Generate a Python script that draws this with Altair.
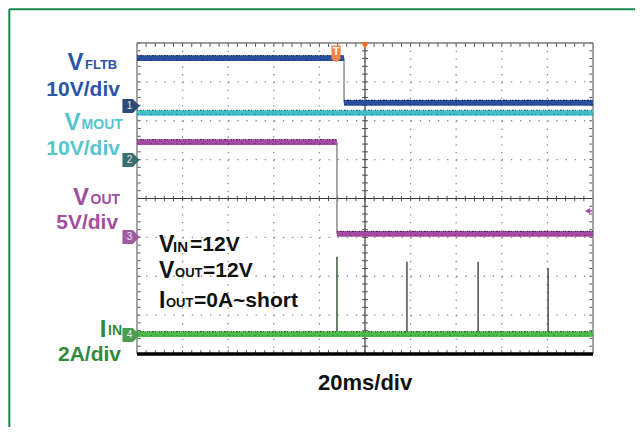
import altair as alt
import pandas as pd

# ---------------- data (time in ms, 20 ms/div ; vertical in screen divisions) ----------------
T_MIN, T_MAX = -100, 100
Y_MIN, Y_MAX = -4, 4

# horizontal trace segments
seg_name = ["VFLTB", "VFLTB", "VMOUT", "VOUT", "VOUT", "IIN"]
seg_t0 = [-100, -9.2, -100, -100, -12.3, -100]
seg_t1 = [-9.2, 100, 100, -12.3, 100, 100]
seg_level = [3.61, 2.46, 2.20, 1.45, -0.91, -3.49]

# falling edges (thin vertical transitions)
edge_t = [-9.2, -12.3]
edge_top = [3.61, 1.45]
edge_bot = [2.46, -0.91]

# input current spikes
spike_t = [-12.3, 18.4, 49.6, 80.3]
spike_top = [-1.50, -1.63, -1.63, -1.79]
spike_base = -3.49

# channel ground markers
marker_num = ["1", "2", "3", "4"]
marker_level = [2.38, 0.99, -0.99, -3.51]

# graticule
major_t = [-80, -60, -40, -20, 20, 40, 60, 80]
major_y = [-3, -2, -1, 1, 2, 3]
minor_t = [T_MIN + 4 * i for i in range(51)]
minor_y = [round(Y_MIN + 0.2 * i, 2) for i in range(41)]

# ---------------- styles ----------------
C_BLUE, C_CYAN, C_PURPLE, C_GREEN = "#2a4f9f", "#3fbfc6", "#a54aa5", "#4cbb4c"
trace_color = {"VFLTB": C_BLUE, "VMOUT": C_CYAN, "VOUT": C_PURPLE, "IIN": C_GREEN}
noise_color = {"VFLTB": "#0e1f45", "VMOUT": "#1d5257", "VOUT": "#3d1a3d", "IIN": "#1d4a1d"}
L_BLUE, L_CYAN, L_PURPLE, L_GREEN = "#2b56a6", "#56c5d0", "#a14fa0", "#2f8a3c"
marker_color = ["#2c4a78", "#3b7070", "#a05aa0", "#4c9c52"]
FONT = "Liberation Sans"

xs = alt.Scale(domain=[T_MIN, T_MAX], nice=False, zero=False)
ys = alt.Scale(domain=[Y_MIN, Y_MAX], nice=False, zero=False)


def X(f):
    return alt.X(f, type="quantitative", scale=xs, axis=None)


def Y(f):
    return alt.Y(f, type="quantitative", scale=ys, axis=None)


# ---------------- graticule ----------------
grid_v = alt.Chart(pd.DataFrame({"t": major_t, "a": Y_MAX, "b": Y_MIN})).mark_rule(
    color="#8a8a8a", strokeWidth=1.3, strokeDash=[1.3, 6.48]
).encode(x=X("t"), y=Y("a"), y2="b")
grid_h = alt.Chart(pd.DataFrame({"y": major_y, "a": T_MIN, "b": T_MAX})).mark_rule(
    color="#8a8a8a", strokeWidth=1.3, strokeDash=[1.3, 7.82]
).encode(y=Y("y"), x=X("a"), x2="b")
center_v = alt.Chart(pd.DataFrame({"t": [0], "a": [Y_MAX], "b": [Y_MIN]})).mark_rule(
    color="#3a3a3a", strokeWidth=1.2
).encode(x=X("t"), y=Y("a"), y2="b")
center_h = alt.Chart(pd.DataFrame({"y": [0], "a": [T_MIN], "b": [T_MAX]})).mark_rule(
    color="#3a3a3a", strokeWidth=1.2
).encode(y=Y("y"), x=X("a"), x2="b")

tk = []
for t in minor_t:
    tk.append({"x0": t, "x1": t, "y0": -0.07, "y1": 0.07})      # on horizontal centre line
    tk.append({"x0": t, "x1": t, "y0": Y_MAX, "y1": Y_MAX - 0.1})  # top edge
    tk.append({"x0": t, "x1": t, "y0": Y_MIN, "y1": Y_MIN + 0.1})  # bottom edge
for y in minor_y:
    tk.append({"x0": -1.3, "x1": 1.3, "y0": y, "y1": y})         # on vertical centre line
    tk.append({"x0": T_MIN, "x1": T_MIN + 1.6, "y0": y, "y1": y})  # left edge
    tk.append({"x0": T_MAX - 1.6, "x1": T_MAX, "y0": y, "y1": y})  # right edge
ticks = alt.Chart(pd.DataFrame(tk)).mark_rule(color="#555555", strokeWidth=1).encode(
    x=X("x0"), x2="x1", y=Y("y0"), y2="y1"
)

frame_lr = alt.Chart(pd.DataFrame({"t": [T_MIN, T_MAX], "a": Y_MAX, "b": Y_MIN})).mark_rule(
    color="#9a9a9a", strokeWidth=1.8
).encode(x=X("t"), y=Y("a"), y2="b")
frame_top = alt.Chart(pd.DataFrame({"y": [Y_MAX], "a": [T_MIN], "b": [T_MAX]})).mark_rule(
    color="#7a7a7a", strokeWidth=1.5
).encode(y=Y("y"), x=X("a"), x2="b")
frame_bot = alt.Chart(pd.DataFrame({"y": [Y_MIN], "a": [T_MIN], "b": [T_MAX]})).mark_rule(
    color="#000000", strokeWidth=3.4
).encode(y=Y("y"), x=X("a"), x2="b")

# ---------------- traces ----------------
seg_df = pd.DataFrame({"name": seg_name, "t0": seg_t0, "t1": seg_t1, "lvl": seg_level})
seg_df["c"] = seg_df["name"].map(trace_color)
seg_df["n"] = seg_df["name"].map(noise_color)

edges = alt.Chart(pd.DataFrame({"t": edge_t, "a": edge_top, "b": edge_bot})).mark_rule(
    color="#8c8c8c", strokeWidth=1.5
).encode(x=X("t"), y=Y("a"), y2="b")

traces = alt.Chart(seg_df).mark_rule(strokeWidth=5.6).encode(
    x=X("t0"), x2="t1", y=Y("lvl"), color=alt.Color("c:N", scale=None)
)
noise_top = alt.Chart(seg_df).mark_rule(
    strokeWidth=1.3, yOffset=-2.6, opacity=0.75, strokeDash=[1, 2, 2, 1, 1, 3, 1, 1]
).encode(x=X("t0"), x2="t1", y=Y("lvl"), color=alt.Color("n:N", scale=None))
noise_mid = alt.Chart(seg_df).mark_rule(
    strokeWidth=1, yOffset=1.5, opacity=0.45, strokeDash=[2, 3, 1, 2, 1, 4]
).encode(x=X("t0"), x2="t1", y=Y("lvl"), color=alt.Color("n:N", scale=None))

spikes = alt.Chart(pd.DataFrame({"t": spike_t, "a": spike_top, "b": spike_base})).mark_rule(
    color="#1f3d22", strokeWidth=1.3
).encode(x=X("t"), y=Y("a"), y2="b")

# ---------------- scope markers ----------------
TAG = "M-1,-0.8 L0.2,-0.8 L1,0 L0.2,0.8 L-1,0.8 Z"
mk_df = pd.DataFrame({"num": marker_num, "y": marker_level, "t": -102.6, "c": marker_color})
markers = alt.Chart(mk_df).mark_point(shape=TAG, filled=True, size=300, opacity=1).encode(
    x=X("t"), y=Y("y"), color=alt.Color("c:N", scale=None)
)
marker_txt = alt.Chart(mk_df).mark_text(
    fontSize=10, font=FONT, color="#e8e8e8", dx=-1.5, baseline="middle"
).encode(x=X("t"), y=Y("y"), text="num:N")

TRIG = "M-0.55,-1 L0.55,-1 L0.55,0.6 L0,1 L-0.55,0.6 Z"
trig = alt.Chart(pd.DataFrame({"t": [-12.7], "y": [3.72]})).mark_point(
    shape=TRIG, filled=True, size=280, color="#f0844a", opacity=1
).encode(x=X("t"), y=Y("y"))
trig_t = alt.Chart(pd.DataFrame({"t": [-12.7], "y": [3.76], "s": ["T"]})).mark_text(
    fontSize=11, font=FONT, fontWeight="bold", color="#ffffff", baseline="middle"
).encode(x=X("t"), y=Y("y"), text="s:N")
top_tri = alt.Chart(pd.DataFrame({"t": [0], "y": [3.93]})).mark_point(
    shape="triangle-down", filled=True, size=60, color="#f07020", opacity=1
).encode(x=X("t"), y=Y("y"))
lvl_arrow = alt.Chart(pd.DataFrame({"t": [97.6], "y": [-0.32]})).mark_point(
    shape="triangle-left", filled=True, size=36, color=C_PURPLE, opacity=1
).encode(x=X("t"), y=Y("y"))
lvl_line = alt.Chart(pd.DataFrame({"a": [97.6], "b": [99.6], "y": [-0.32]})).mark_rule(
    color=C_PURPLE, strokeWidth=1.5
).encode(x=X("a"), x2="b", y=Y("y"))

# ---------------- outer green border ----------------
border_v = alt.Chart(pd.DataFrame({"t": [-156.0], "a": [4.87], "b": [-5.9]})).mark_rule(
    color="#15884a", strokeWidth=2
).encode(x=X("t"), y=Y("a"), y2="b")
border_h = alt.Chart(pd.DataFrame({"y": [4.87], "a": [-156.0], "b": [119.0]})).mark_rule(
    color="#15884a", strokeWidth=2
).encode(y=Y("y"), x=X("a"), x2="b")

# ---------------- labels ----------------
lab_right = pd.DataFrame({
    "s": ["V", "10V/div", "V", "10V/div", "V", "5V/div", "I", "2A/div"],
    "t": [-123.5, -107.5, -124.8, -107.5, -121.1, -108.3, -113.4, -107.0],
    "y": [3.486, 2.791, 1.942, 1.273, 0.013, -0.630, -3.383, -4.026],
    "fs": [24, 21, 24, 21, 24, 21, 24, 21],
    "c": [L_BLUE, L_BLUE, L_CYAN, L_CYAN, L_PURPLE, L_PURPLE, L_GREEN, L_GREEN],
})
lab_left = pd.DataFrame({
    "s": ["FLTB", "MOUT", "OUT", "IN",
          "V", "IN", "=12V", "V", "OUT", "=12V", "I", "OUT", "=0A~short", "20ms/div"],
    "t": [-122.8, -124.3, -120.4, -112.7,
          -90.35, -84.2, -76.75, -90.35, -83.3, -71.05, -90.35, -87.3, -75.0, -20.6],
    "y": [3.434, 1.891, -0.039, -3.408,
          -1.196, -1.248, -1.196, -1.865, -1.916, -1.865, -2.637, -2.688, -2.637, -4.746],
    "fs": [13, 14, 14, 14, 23, 15, 21, 23, 13, 21, 23, 13, 21, 22],
    "c": [L_BLUE, L_CYAN, L_PURPLE, L_GREEN] + ["#111111"] * 10,
})
txt_r = alt.Chart(lab_right).mark_text(align="right", font=FONT, fontWeight="bold").encode(
    x=X("t"), y=Y("y"), text="s:N", size=alt.Size("fs:Q", scale=None), color=alt.Color("c:N", scale=None)
)
txt_l = alt.Chart(lab_left).mark_text(align="left", font=FONT, fontWeight="bold").encode(
    x=X("t"), y=Y("y"), text="s:N", size=alt.Size("fs:Q", scale=None), color=alt.Color("c:N", scale=None)
)

chart = alt.layer(
    border_v, border_h,
    grid_v, grid_h, ticks, center_v, center_h, frame_lr, frame_top, frame_bot,
    edges, spikes, traces, noise_top, noise_mid,
    markers, marker_txt, trig, trig_t, top_tri, lvl_arrow, lvl_line,
    txt_r, txt_l,
).properties(
    width=456, height=311,
    autosize=alt.AutoSizeParams(type="none"),
    padding={"left": 129, "top": 35, "right": 42, "bottom": 73},
    background="white",
).configure_view(stroke=None)

chart.save("out.html", embed_options={"renderer": "svg", "actions": False})
